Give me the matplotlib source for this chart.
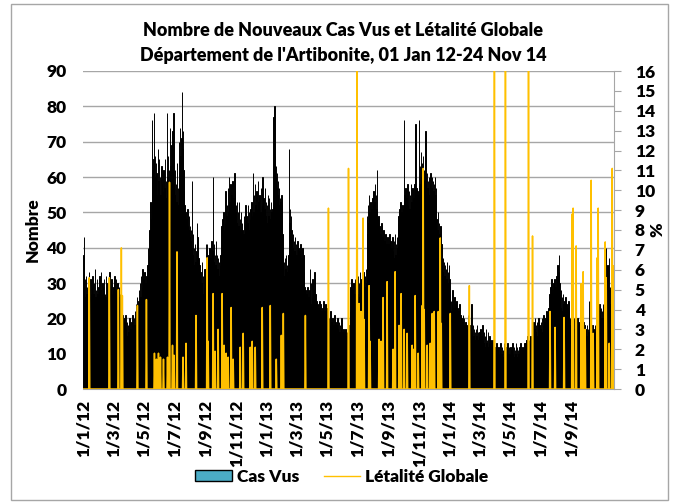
import numpy as np
import pandas as pd
import matplotlib
matplotlib.use("Agg")
import matplotlib.pyplot as plt
from matplotlib.patches import Patch, Rectangle
from matplotlib.lines import Line2D

plt.rcParams['font.family'] = ['Lato', 'DejaVu Sans']
plt.rcParams['font.weight'] = 'heavy'

# Nouveaux cas vus par jour, une liste par mois
cas_2012 = [
    [38, 43, 26, 31, 24, 32, 27, 29, 25, 30, 28, 33, 26, 24, 31, 27, 22, 29, 32, 25, 27, 30, 24, 34, 26, 28, 23, 31, 27, 25, 29],
    [26, 32, 24, 28, 33, 22, 27, 30, 25, 29, 31, 23, 27, 26, 32, 24, 28, 30, 22, 27, 25, 33, 26, 29, 24, 31, 27, 23, 28],
    [29, 26, 32, 24, 28, 31, 25, 27, 30, 22, 26, 29, 24, 27, 23, 25, 20, 24, 21, 18, 20, 16, 19, 14, 21, 17, 15, 19, 13, 18, 16],
    [14, 20, 12, 17, 15, 19, 13, 21, 16, 18, 20, 15, 22, 18, 24, 20, 26, 22, 19, 25, 28, 23, 30, 26, 32, 24, 29, 34, 27, 31],
    [28, 33, 25, 30, 26, 32, 29, 35, 40, 31, 38, 45, 41, 53, 48, 44, 76, 62, 58, 65, 78, 60, 66, 57, 64, 61, 55, 52, 68, 59, 65],
    [52, 60, 55, 48, 63, 58, 50, 56, 62, 53, 57, 65, 51, 59, 54, 78, 60, 66, 58, 62, 55, 74, 63, 57, 69, 61, 73, 65, 78, 58],
    [55, 62, 50, 58, 53, 64, 48, 57, 52, 70, 61, 74, 66, 58, 71, 84, 68, 73, 62, 56, 52, 47, 50, 44, 48, 43, 51, 46, 45, 49, 43],
    [46, 42, 45, 40, 59, 38, 44, 35, 40, 33, 41, 36, 30, 39, 47, 43, 32, 37, 31, 35, 28, 33, 25, 30, 36, 27, 32, 26, 29, 34, 31],
    [34, 41, 30, 41, 36, 29, 38, 33, 40, 31, 37, 34, 42, 30, 39, 60, 36, 41, 33, 38, 35, 42, 31, 38, 34, 37, 32, 36, 30, 35],
    [38, 33, 46, 40, 48, 43, 50, 45, 39, 47, 56, 44, 49, 52, 46, 57, 50, 60, 53, 48, 58, 51, 55, 47, 59, 52, 54, 49, 61, 56, 50],
    [52, 47, 53, 44, 50, 46, 53, 42, 48, 45, 50, 43, 47, 45, 40, 44, 49, 42, 46, 52, 44, 49, 41, 47, 52, 45, 50, 43, 48, 51],
    [47, 53, 49, 44, 61, 50, 55, 46, 58, 52, 48, 56, 51, 45, 59, 53, 47, 55, 50, 57, 46, 52, 60, 48, 54, 45, 51, 57, 49, 53, 47],
]
cas_2013 = [
    [52, 47, 55, 49, 54, 46, 51, 48, 53, 50, 45, 51, 49, 77, 58, 80, 66, 60, 63, 57, 61, 55, 59, 52, 57, 50, 54, 53, 48, 55, 52],
    [44, 38, 32, 36, 30, 37, 34, 38, 31, 35, 33, 36, 38, 68, 47, 51, 42, 49, 45, 43, 40, 44, 37, 42, 39, 43, 36, 41],
    [38, 35, 42, 33, 40, 36, 39, 31, 41, 34, 37, 32, 40, 35, 38, 33, 29, 26, 28, 24, 27, 25, 29, 23, 26, 22, 28, 34, 24, 30, 21],
    [26, 31, 22, 28, 24, 33, 23, 27, 21, 25, 22, 24, 19, 23, 20, 25, 21, 24, 18, 22, 20, 23, 19, 25, 21, 22, 18, 24, 20, 23],
    [19, 16, 21, 17, 20, 15, 18, 22, 16, 19, 17, 20, 15, 18, 16, 21, 17, 19, 15, 18, 16, 20, 17, 15, 19, 16, 18, 14, 17, 20, 16],
    [16, 14, 17, 15, 16, 13, 17, 14, 15, 16, 14, 17, 15, 16, 18, 22, 29, 24, 31, 26, 28, 23, 30, 25, 27, 31, 24, 29, 26, 28],
    [27, 32, 24, 30, 26, 33, 28, 25, 31, 29, 26, 30, 33, 27, 29, 32, 28, 34, 30, 49, 44, 52, 47, 55, 50, 46, 53, 48, 51, 45, 54],
    [50, 56, 47, 53, 58, 49, 55, 51, 62, 48, 45, 49, 41, 46, 38, 44, 40, 47, 36, 43, 39, 45, 37, 42, 40, 44, 36, 41, 38, 43, 39],
    [41, 37, 44, 35, 42, 38, 40, 36, 43, 39, 37, 42, 35, 44, 38, 41, 36, 43, 40, 47, 49, 44, 51, 46, 53, 48, 50, 45, 52, 49],
    [51, 76, 55, 48, 57, 50, 54, 47, 58, 52, 49, 56, 51, 55, 46, 58, 53, 50, 57, 48, 54, 52, 58, 49, 75, 53, 57, 50, 56, 51, 55],
    [76, 58, 63, 55, 67, 60, 64, 56, 66, 59, 62, 57, 65, 73, 60, 54, 61, 57, 59, 53, 60, 55, 58, 61, 52, 57, 60, 54, 59, 56],
    [58, 53, 60, 55, 57, 48, 45, 50, 42, 47, 44, 39, 46, 37, 41, 35, 33, 37, 30, 36, 32, 35, 29, 34, 31, 36, 30, 33, 28, 35, 31],
]
cas_2014 = [
    [27, 22, 25, 20, 24, 28, 21, 23, 19, 26, 22, 24, 20, 25, 21, 23, 19, 22, 20, 24, 18, 21, 17, 20, 16, 19, 21, 17, 20, 18, 16],
    [19, 15, 18, 14, 17, 21, 16, 13, 18, 15, 17, 14, 24, 16, 13, 18, 15, 17, 14, 16, 13, 17, 15, 18, 14, 16, 12, 15],
    [16, 13, 17, 14, 15, 12, 18, 14, 13, 16, 11, 15, 12, 17, 13, 14, 11, 16, 12, 13, 15, 11, 14, 12, 13, 10, 14, 9, 12, 10, 11],
    [9, 12, 10, 13, 8, 11, 9, 12, 10, 8, 11, 13, 9, 10, 12, 8, 11, 9, 13, 10, 8, 12, 9, 11, 10, 13, 8, 10, 12, 9],
    [10, 12, 8, 11, 9, 13, 10, 8, 12, 9, 11, 10, 13, 8, 12, 9, 11, 10, 8, 12, 9, 13, 10, 11, 8, 12, 9, 11, 10, 13, 12],
    [13, 11, 14, 12, 15, 13, 11, 14, 12, 13, 15, 12, 14, 16, 18, 15, 19, 14, 17, 20, 16, 18, 15, 19, 14, 17, 20, 16, 18, 15],
    [17, 19, 15, 20, 16, 18, 21, 17, 19, 15, 20, 18, 22, 17, 21, 19, 23, 20, 27, 24, 29, 25, 31, 26, 28, 24, 30, 27, 31, 25, 29],
    [27, 32, 25, 35, 28, 33, 38, 30, 26, 23, 28, 22, 26, 21, 27, 24, 20, 25, 22, 26, 21, 24, 19, 23, 20, 25, 22, 18, 20, 17, 19],
    [16, 19, 15, 18, 17, 20, 14, 18, 16, 19, 15, 17, 20, 16, 18, 14, 19, 17, 15, 18, 16, 20, 15, 17, 19, 14, 18, 16, 17, 15],
    [15, 18, 14, 17, 16, 25, 15, 18, 14, 17, 16, 13, 18, 15, 17, 14, 16, 18, 15, 17, 14, 20, 23, 19, 22, 18, 24, 21, 19, 23, 20],
    [22, 19, 24, 20, 23, 21, 18, 24, 40, 26, 31, 35, 22, 28, 37, 24, 29, 21, 34, 26, 30, 23, 27, 25],
]

# Létalité globale (%) : 0 tous les jours sauf ces dates
let_dates = [
    "2012-01-13", "2012-02-22", "2012-03-11", "2012-03-17", "2012-03-19", "2012-04-18", "2012-05-06",
    "2012-05-22", "2012-05-26", "2012-05-30", "2012-06-03", "2012-06-09", "2012-06-17", "2012-06-21",
    "2012-06-27", "2012-06-30", "2012-07-06", "2012-07-18", "2012-07-24", "2012-08-13", "2012-09-04",
    "2012-09-06", "2012-09-16", "2012-09-20", "2012-09-26", "2012-10-04", "2012-10-08", "2012-10-12",
    "2012-10-16", "2012-10-22", "2012-10-26", "2012-11-09", "2012-11-15", "2012-11-29", "2012-12-03",
    "2012-12-09", "2012-12-23", "2013-01-08", "2013-01-20", "2013-01-30", "2013-02-03", "2013-03-19",
    "2013-05-04", "2013-06-13", "2013-06-30", "2013-07-04", "2013-07-08", "2013-07-12", "2013-07-14",
    "2013-07-24", "2013-07-26", "2013-08-13", "2013-08-17", "2013-08-21", "2013-08-29", "2013-09-10",
    "2013-09-14", "2013-09-22", "2013-09-26", "2013-10-02", "2013-10-08", "2013-10-18", "2013-10-20",
    "2013-10-24", "2013-10-30", "2013-11-07", "2013-11-09", "2013-11-11", "2013-11-17", "2013-11-23",
    "2013-11-27", "2013-12-01", "2013-12-09", "2013-12-13", "2013-12-15", "2014-01-02", "2014-02-09",
    "2014-03-31", "2014-04-22", "2014-06-07", "2014-06-15", "2014-07-20", "2014-07-30", "2014-08-17",
    "2014-09-02", "2014-09-04", "2014-09-10", "2014-09-20", "2014-09-24", "2014-09-28", "2014-10-10",
    "2014-10-14", "2014-10-22", "2014-10-24", "2014-11-07", "2014-11-09", "2014-11-15", "2014-11-21",
    "2014-11-23", "2014-11-24",
]
let_values = [
    5.6, 5.6, 5.0, 7.1, 4.7, 4.2, 4.5,
    1.8, 1.5, 1.8, 1.6, 1.5, 1.6, 10.4,
    2.2, 1.7, 6.9, 1.6, 2.3, 3.7, 6.6,
    2.4, 4.8, 1.9, 3.0, 4.8, 2.2, 1.8,
    1.6, 4.1, 1.5, 2.1, 2.8, 2.1, 2.4,
    2.1, 4.1, 4.2, 1.5, 2.7, 3.8, 3.7,
    9.1, 11.1, 20.0, 4.3, 3.9, 8.6, 3.5,
    5.2, 2.4, 2.5, 2.4, 4.6, 5.4, 2.0,
    5.9, 3.2, 4.8, 3.0, 2.8, 2.2, 2.0,
    4.7, 1.8, 4.2, 11.1, 4.0, 2.2, 2.3,
    3.8, 3.9, 3.9, 7.6, 3.3, 3.8, 5.2,
    20.0, 20.0, 20.0, 7.7, 3.9, 3.1, 3.6,
    8.8, 9.1, 7.2, 5.3, 5.9, 3.0, 10.5,
    2.8, 6.6, 9.1, 7.4, 5.6, 2.3, 11.1,
    6.2, 3.8,
]

x_ticks = pd.date_range("2012-01-01", "2014-09-01", freq="2MS")

# construction des séries journalières
dates, cas = [], []
for year, months in [(2012, cas_2012), (2013, cas_2013), (2014, cas_2014)]:
    for m, vals in enumerate(months, start=1):
        dates.extend(pd.date_range(f"{year}-{m:02d}-01", periods=len(vals), freq="D"))
        cas.extend(vals)
dates = pd.DatetimeIndex(dates)
letalite = pd.Series(0.0, index=dates)
letalite[pd.to_datetime(let_dates)] = let_values

W, H = 673, 504
fig = plt.figure(figsize=(W / 100, H / 100), dpi=100)
fig.patches.append(Rectangle((11 / W, 4 / H), 657 / W, 496 / H, transform=fig.transFigure,
                             fill=False, edgecolor='#A6A6A6', lw=1))

ax = fig.add_axes([83 / W, 1 - 389 / H, (614 - 83) / W, (389 - 71) / H])
ax.bar(dates, cas, width=1.0, color='black', edgecolor='black', linewidth=0.7)
ax.set_ylim(0, 90)
ax.set_yticks(range(0, 91, 10))
ax.set_axisbelow(True)
ax.yaxis.grid(True, color='#A6A6A6', lw=1)
ax.set_xlim(dates[0] - pd.Timedelta(hours=12), dates[-1] + pd.Timedelta(hours=12))
ax.set_xticks(x_ticks)
ax.set_xticklabels([f"{d.day}/{d.month}/{d.year % 100}" for d in x_ticks], rotation=90, fontsize=12.5)
for s in ['left', 'top', 'right']:
    ax.spines[s].set_visible(False)
ax.spines['bottom'].set_color('#A6A6A6')
ax.tick_params(axis='y', length=0, labelsize=12.5, pad=12)
ax.tick_params(axis='x', length=0, pad=8)

ax2 = ax.twinx()
ax2.plot(letalite.index, letalite.values, color='#FFC000', lw=1.1)
ax2.set_ylim(0, 16)
ax2.set_yticks(range(0, 17))
for s in ['left', 'top', 'bottom']:
    ax2.spines[s].set_visible(False)
ax2.spines['right'].set_color('#A6A6A6')
ax2.tick_params(axis='y', length=5, color='#A6A6A6', labelsize=12.5, pad=10)

fig.text(33 / W, 1 - 230 / H, "Nombre", rotation=90, ha='center', va='center', fontsize=12.5)
fig.text(657 / W, 1 - 230 / H, "%", rotation=90, ha='center', va='center', fontsize=12.5)

fig.text(343 / W, 1 - 31 / H, "Nombre de Nouveaux Cas Vus et Létalité Globale",
         ha='center', va='center', fontsize=13)
fig.text(343 / W, 1 - 55 / H, "Département de l'Artibonite, 01 Jan 12-24 Nov 14",
         ha='center', va='center', fontsize=13)

handles = [Patch(facecolor='#4BACC6', edgecolor='black', lw=1),
           Line2D([], [], color='#FFC000', lw=1)]
fig.legend(handles, ["Cas Vus", "Létalité Globale"], loc='center', bbox_to_anchor=(342 / W, 1 - 477 / H),
           ncol=2, frameon=False, prop={'size': 12.5},
           handlelength=2.1, handleheight=0.6, handletextpad=0.3, columnspacing=1.4)

fig.savefig("out.png", dpi=100)
